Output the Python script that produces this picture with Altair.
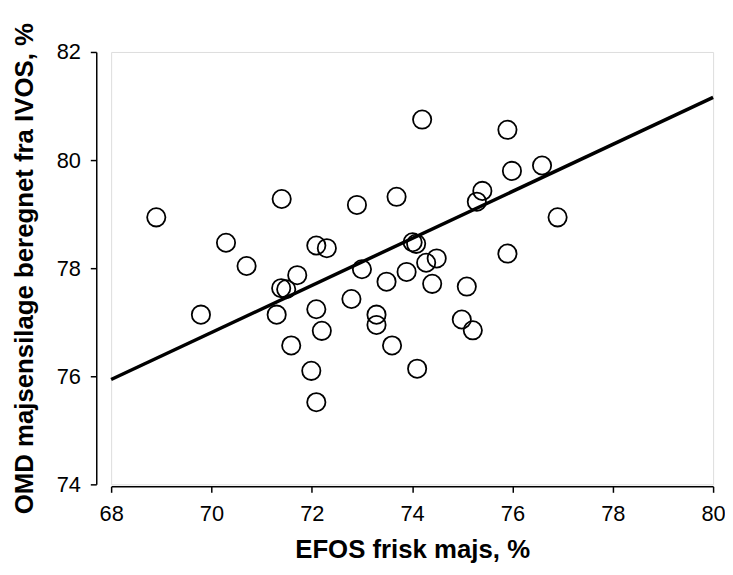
import altair as alt
import pandas as pd

# Scatter points (EFOS frisk majs %, OMD majsensilage %)
efos = [68.90, 69.79, 70.29, 70.70, 71.40, 71.39, 71.49, 71.30, 71.71, 71.59,
        72.09, 72.30, 72.09, 72.20, 71.99, 72.09, 72.90, 73.00, 72.79, 73.29,
        73.29, 73.49, 73.60, 73.69, 74.01, 74.08, 73.89, 74.20, 74.10, 74.28,
        74.49, 74.40, 75.09, 74.99, 75.21, 75.29, 75.40, 75.90, 75.99, 75.90,
        76.59, 76.90]
omd = [78.94, 77.14, 78.47, 78.04, 79.28, 77.63, 77.61, 77.14, 77.87, 76.57,
       78.42, 78.37, 77.24, 76.84, 76.10, 75.52, 79.17, 77.98, 77.43, 77.14,
       76.95, 77.75, 76.57, 79.32, 78.48, 78.45, 77.93, 80.75, 76.14, 78.10,
       78.18, 77.71, 77.66, 77.05, 76.85, 79.23, 79.43, 80.56, 79.80, 78.27,
       79.90, 78.94]

# Regression line end points
line_x = [68, 80]
line_y = [75.94, 81.16]

x_ticks = [68, 70, 72, 74, 76, 78, 80]
y_ticks = [74, 76, 78, 80, 82]

pts = pd.DataFrame({"efos": efos, "omd": omd})
ln = pd.DataFrame({"efos": line_x, "omd": line_y})

FONT = "Liberation Sans"

xs = alt.Scale(domain=[68, 80], nice=False, zero=False)
ys = alt.Scale(domain=[74, 82], nice=False, zero=False)

xaxis = alt.Axis(values=x_ticks, title="EFOS frisk majs, %", grid=False,
                 domainColor="black", domainWidth=1.5, tickColor="black",
                 tickWidth=1.5, tickSize=6, labelFont=FONT, labelFontSize=22,
                 labelColor="black", labelPadding=11, titleFont=FONT,
                 titleFontSize=26, titleFontWeight="bold", titleColor="black",
                 titlePadding=13, offset=2, labelFlush=False)
yaxis = alt.Axis(values=y_ticks, title="OMD majsensilage beregnet fra IVOS, %",
                 grid=False, domainColor="black", domainWidth=1.5,
                 tickColor="black", tickWidth=1.5, tickSize=6, labelFont=FONT,
                 labelFontSize=22, labelColor="black", labelPadding=10,
                 titleFont=FONT, titleFontSize=26, titleFontWeight="bold",
                 titleColor="black", titlePadding=19, offset=15, labelFlush=False)

line = alt.Chart(ln).mark_line(color="black", strokeWidth=3.5).encode(
    x=alt.X("efos:Q", scale=xs, axis=xaxis),
    y=alt.Y("omd:Q", scale=ys, axis=yaxis),
)

points = alt.Chart(pts).mark_point(
    shape="circle", filled=False, stroke="black", strokeWidth=1.8, size=340,
    opacity=1,
).encode(
    x=alt.X("efos:Q", scale=xs, axis=xaxis),
    y=alt.Y("omd:Q", scale=ys, axis=yaxis),
)

chart = alt.layer(line, points).properties(
    width=607, height=436,
    autosize=alt.AutoSizeParams(type="none"),
    padding={"left": 104, "top": 42, "right": 12, "bottom": 84},
).configure_view(stroke=None).configure(background="white")

chart.save("out.html", embed_options={"renderer": "svg", "actions": False})
